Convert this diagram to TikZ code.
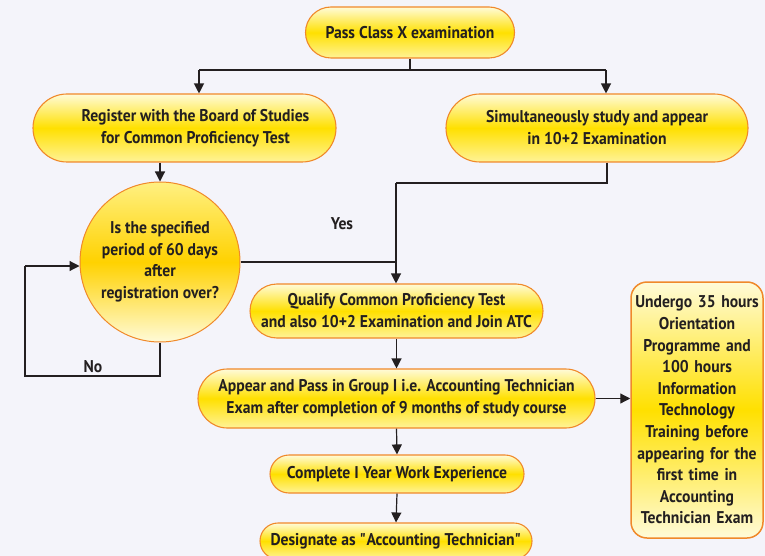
\documentclass[tikz,border=0pt]{standalone}
\usepackage{fontspec}
\setmainfont{PT Sans}[FakeStretch=0.92]
\usetikzlibrary{shapes.misc,arrows.meta}
\definecolor{bg}{HTML}{F4F4FA}
\definecolor{edge}{HTML}{F0892A}
\definecolor{ylw}{HTML}{FFE000}
\definecolor{pale}{HTML}{FFFBD8}
\definecolor{ink}{HTML}{231F20}
\tikzset{
  x=1pt, y=-1pt,
  pill/.style={rounded rectangle, draw=edge, line width=1.1pt,
    top color=pale, bottom color=pale!70!ylw, middle color=ylw,
    font=\bfseries\fontsize{17}{22}\selectfont, text=ink, align=center, inner sep=0pt},
  ball/.style={circle, draw=edge, line width=1pt, inner sep=0pt,
    top color=pale!60!ylw, bottom color=pale, middle color=ylw!85!orange,
    font=\bfseries\fontsize{17}{21.5}\selectfont, text=ink, align=center},
  tallbox/.style={rectangle, rounded corners=16pt, draw=edge, line width=1.5pt,
    top color=pale, bottom color=pale, middle color=ylw,
    font=\bfseries\fontsize{17}{21.6}\selectfont, text=ink, align=center, inner sep=0pt},
  conn/.style={draw=ink, line width=1.2pt},
  arr/.style={conn, -{Triangle[width=10pt,length=10pt]}},
  lbl/.style={font=\bfseries\fontsize{17}{18}\selectfont, text=ink}
}
\begin{document}
\begin{tikzpicture}
\fill[bg] (0,0) rectangle (765,556);
\useasboundingbox (0,0) rectangle (765,556);

\node[pill, minimum width=209pt, minimum height=51pt] (pass) at (410,32.5) {Pass Class X examination};
\node[pill, minimum width=303pt, minimum height=68pt] (reg) at (184.5,128) {\hspace*{22pt}Register with the Board of Studies\\\hspace*{22pt}for Common Proficiency Test};
\node[pill, minimum width=302pt, minimum height=68pt] (sim) at (597,128) {Simultaneously study and appear\\in 10+2 Examination};
\node[ball, minimum size=160pt] (q) at (160,262) {Is the specified\\period of 60 days\\after\\registration over?};
\node[pill, minimum width=293pt, minimum height=54pt] (qual) at (396.5,311) {Qualify Common Proficiency Test\\and also 10+2 Examination and Join ATC};
\node[pill, minimum width=397pt, minimum height=59pt] (app) at (396.5,398.5) {Appear and Pass in Group I i.e. Accounting Technician\\Exam after completion of 9 months of study course};
\node[pill, minimum width=254pt, minimum height=38pt] (comp) at (397,474) {Complete I Year Work Experience};
\node[pill, minimum width=272pt, minimum height=36pt] (des) at (396,541) {Designate as \textquotedbl Accounting Technician\textquotedbl};
\node[tallbox, minimum width=132pt, minimum height=256pt, text width=130pt] (ori) at (697,410) {Undergo 35 hours\\Orientation\\Programme and\\100 hours\\Information\\Technology\\Training before\\appearing for the\\first time in\\Accounting\\Technician Exam};

\coordinate (split) at (410,70);
\coordinate (sl) at (199,70);
\coordinate (sr) at (606,70);
\coordinate (s1) at (607,183);
\coordinate (join) at (396,183);
\coordinate (n1) at (160,376);
\coordinate (n2) at (25,376);
\coordinate (n3) at (25,266);

\draw[conn] (pass.south) -- (split);
\draw[conn] (sl) -- (sr);
\draw[arr] (sl) -- (sl |- reg.north);
\draw[arr] (sr) -- (sr |- sim.north);
\draw[arr] (reg.south -| q.north) -- (q.north);
\draw[conn] (sim.south -| s1) -- (s1) -- (join);
\draw[arr] (join) -- (join |- qual.north);
\draw[conn] (q.east) -- (q.east -| join);
\node[lbl] (yes) at (342,224) {Yes};
\draw[conn] (q.south) -- (n1) -- (n2) -- (n3);
\draw[arr] (n3) -- (q.west |- n3);
\node[lbl] (no) at (93,367) {No};
\draw[arr] (qual.south) -- (app.north);
\draw[arr] (app.east) -- (ori.west |- app.east);
\draw[arr] (app.south) -- (comp.north);
\draw[arr] (comp.south) -- (des.north);
\end{tikzpicture}
\end{document}
